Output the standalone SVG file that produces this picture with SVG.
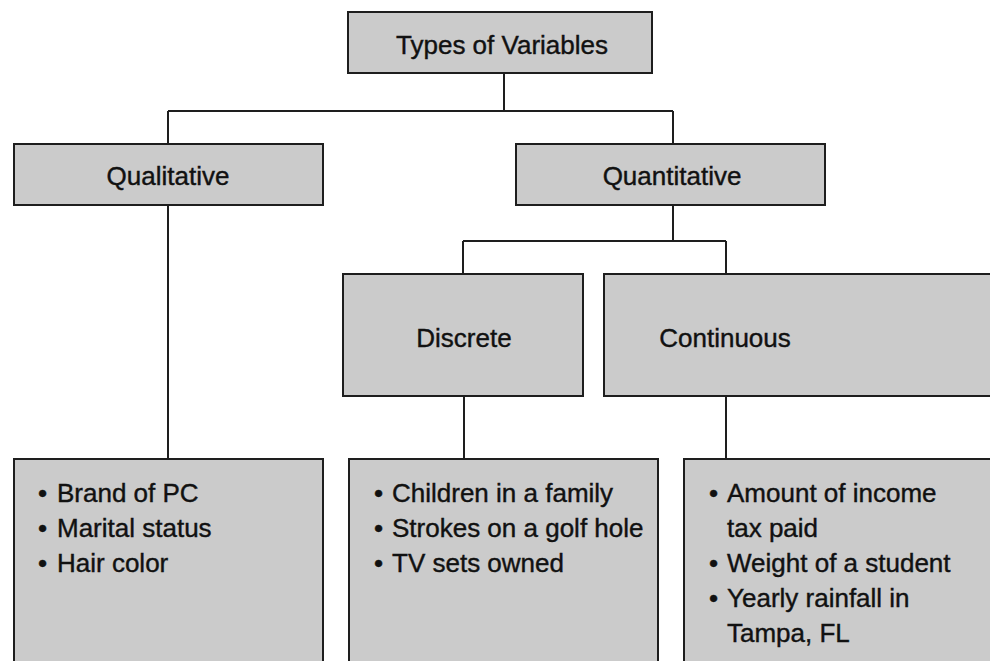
<svg xmlns="http://www.w3.org/2000/svg" width="990" height="661" viewBox="0 0 990 661">
<style>
.box{fill:#cbcbcb;stroke:#1e1e1e;stroke-width:2}
.t{font-family:"Liberation Sans",Arial,sans-serif;font-size:26px;fill:#111;stroke:#111;stroke-width:0.4;text-anchor:middle}
.b{font-family:"Liberation Sans",Arial,sans-serif;font-size:26px;fill:#111;stroke:#111;stroke-width:0.4}
.c{fill:none;stroke:#1e1e1e;stroke-width:2}
</style>
<rect width="990" height="661" fill="#fff"/>
<g id="connectors">
<path class="c" d="M504 73V111M168 111H673M168 111V144M673 111V144"/>
<path class="c" d="M168 205V459"/>
<path class="c" d="M673 205V241M463 241H726M463 241V274M726 241V274"/>
<path class="c" d="M464 396V459M726 396V459"/>
</g>
<g id="types">
<rect class="box" x="348" y="12" width="304" height="61"/>
<text class="t" x="502" y="54">Types of Variables</text>
</g>
<g id="qualitative">
<rect class="box" x="14" y="144" width="309" height="61"/>
<text class="t" x="168" y="185">Qualitative</text>
</g>
<g id="quantitative">
<rect class="box" x="516" y="144" width="309" height="61"/>
<text class="t" x="672" y="185">Quantitative</text>
</g>
<g id="discrete">
<rect class="box" x="343" y="274" width="240" height="122"/>
<text class="t" x="464" y="347">Discrete</text>
</g>
<g id="continuous">
<rect class="box" x="604" y="274" width="400" height="122"/>
<text class="t" x="725" y="347">Continuous</text>
</g>
<g id="qual-examples">
<rect class="box" x="14" y="459" width="309" height="215"/>
<text class="b"><tspan x="38" y="502">•</tspan><tspan x="57" y="502">Brand of PC</tspan><tspan x="38" y="537">•</tspan><tspan x="57" y="537">Marital status</tspan><tspan x="38" y="572">•</tspan><tspan x="57" y="572">Hair color</tspan></text>
</g>
<g id="discrete-examples">
<rect class="box" x="349" y="459" width="309" height="215"/>
<text class="b"><tspan x="374" y="502">•</tspan><tspan x="392" y="502">Children in a family</tspan><tspan x="374" y="537">•</tspan><tspan x="392" y="537">Strokes on a golf hole</tspan><tspan x="374" y="572">•</tspan><tspan x="392" y="572">TV sets owned</tspan></text>
</g>
<g id="continuous-examples">
<rect class="box" x="684" y="459" width="320" height="215"/>
<text class="b"><tspan x="709" y="502">•</tspan><tspan x="727" y="502">Amount of income</tspan><tspan x="727" y="537">tax paid</tspan><tspan x="709" y="572">•</tspan><tspan x="727" y="572">Weight of a student</tspan><tspan x="709" y="607">•</tspan><tspan x="727" y="607">Yearly rainfall in</tspan><tspan x="727" y="642">Tampa, FL</tspan></text>
</g>
</svg>
